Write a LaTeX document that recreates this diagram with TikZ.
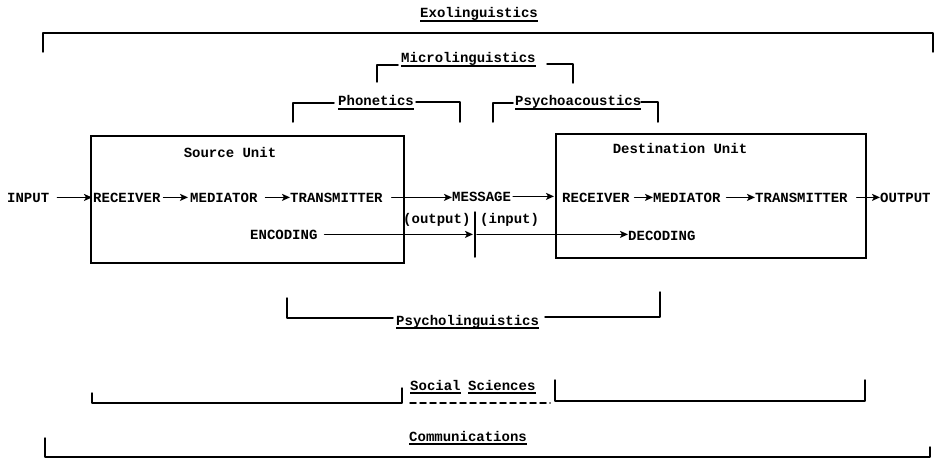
\documentclass[tikz,border=0pt]{standalone}
\usepackage{fontspec}
\setmonofont{Liberation Mono}
\usetikzlibrary{arrows.meta}
\begin{document}
\begin{tikzpicture}[x=1pt,y=-1pt,
  every node/.style={font=\ttfamily\bfseries\fontsize{14pt}{16pt}\selectfont, inner sep=0pt, anchor=base west},
  ln/.style={line width=1.5pt, line cap=round, line join=round},
  arr/.style={ln, -{Stealth[length=8pt,width=7pt,inset=2pt]}},
  ulin/.style={line width=1.1pt},
  unitbox/.style={draw, line width=1.6pt, anchor=north west, inner sep=0pt}
]
\useasboundingbox (0,0) rectangle (935,460);

% headings
\node (exo) at (420,18) {Exolinguistics};
\node (micro) at (401,63) {Microlinguistics};
\node (phon) at (338,106) {Phonetics};
\node (psyac) at (515,106) {Psychoacoustics};
\node (psyling) at (396,325) {Psycholinguistics};
\node (social) at (410,390) {Social};
\node (sciences) at (468,390) {Sciences};
\node (comm) at (409,441) {Communications};
\foreach \n in {exo,micro,phon,psyac,psyling,social,sciences,comm}
  \draw[ulin] ([yshift=-3pt]\n.base west) -- ([yshift=-3pt]\n.base east);

% boxes
\node[unitbox, minimum width=313pt, minimum height=127pt] (src) at (90,135) {};
\node[unitbox, minimum width=310pt, minimum height=124pt] (dst) at (555,133) {};
\node[anchor=base] (srcu) at (230,157) {Source Unit};
\node[anchor=base] (dstu) at (680,153) {Destination Unit};

% main row
\node (input) at (7,202) {INPUT};
\node (rec1) at (93,202) {RECEIVER};
\node (med1) at (190,202) {MEDIATOR};
\node (tr1) at (290,202) {TRANSMITTER};
\node (msg) at (452,201) {MESSAGE};
\node (rec2) at (562,202) {RECEIVER};
\node (med2) at (653,202) {MEDIATOR};
\node (tr2) at (755,202) {TRANSMITTER};
\node (out) at (880,202) {OUTPUT};
\node (outp) at (403,223) {(output)};
\node (inp) at (480,223) {(input)};
\node (enc) at (250,239) {ENCODING};
\node (dec) at (628,240) {DECODING};

\draw[arr, shorten <=8pt, shorten >=1pt] (input.east) -- (input.east -| rec1.west);
\draw[arr, shorten <=3pt, shorten >=2pt] (rec1.east) -- (rec1.east -| med1.west);
\draw[arr, shorten <=8pt, shorten >=0pt] (med1.east) -- (med1.east -| tr1.west);
\draw[arr, shorten <=9pt, shorten >=0pt] (tr1.east) -- (tr1.east -| msg.west);
\draw[arr, shorten <=2pt, shorten >=1pt] (msg.east) -- (msg.east -| dst.west);
\draw[arr, shorten <=5pt, shorten >=0pt] (rec2.east) -- (rec2.east -| med2.west);
\draw[arr, shorten <=6pt, shorten >=0pt] (med2.east) -- (med2.east -| tr2.west);
\draw[arr, shorten <=9pt, shorten >=0pt] (tr2.east) -- (tr2.east -| out.west);

% encoding / decoding
\coordinate (tkT) at (475,212);
\coordinate (tkB) at (475,257);
\draw[ln] (tkT) -- (tkB);
\draw[arr, shorten <=7pt, shorten >=2pt] (enc.east) -- (enc.east -| tkT);
\draw[arr, shorten <=2pt, shorten >=0pt] (enc.east -| tkT) -- (enc.east -| dec.west);

% brackets
\draw[ln] (43,52) -- (43,33) -- (933,33) -- (933,52);
\draw[ln] (377,82) -- (377,65) -- (398,65);
\draw[ln] (547,64) -- (573,64) -- (573,83);
\draw[ln] (293,122) -- (293,103) -- (334,103);
\draw[ln] (416,102) -- (460,102) -- (460,122);
\draw[ln] (493,122) -- (493,103) -- (513,103);
\draw[ln] (641,102) -- (658,102) -- (658,122);
\draw[ln] (287,298) -- (287,318) -- (393,318);
\draw[ln] (545,317) -- (660,317) -- (660,292);
\draw[ln] (92,393) -- (92,403) -- (402,403) -- (402,388);
\draw[ln, dashed, dash pattern=on 6pt off 4pt] (410,403) -- (550,403);
\draw[ln] (555,380) -- (555,401) -- (865,401) -- (865,380);
\draw[ln] (45,438) -- (45,457) -- (930,457) -- (930,447);
\end{tikzpicture}
\end{document}
